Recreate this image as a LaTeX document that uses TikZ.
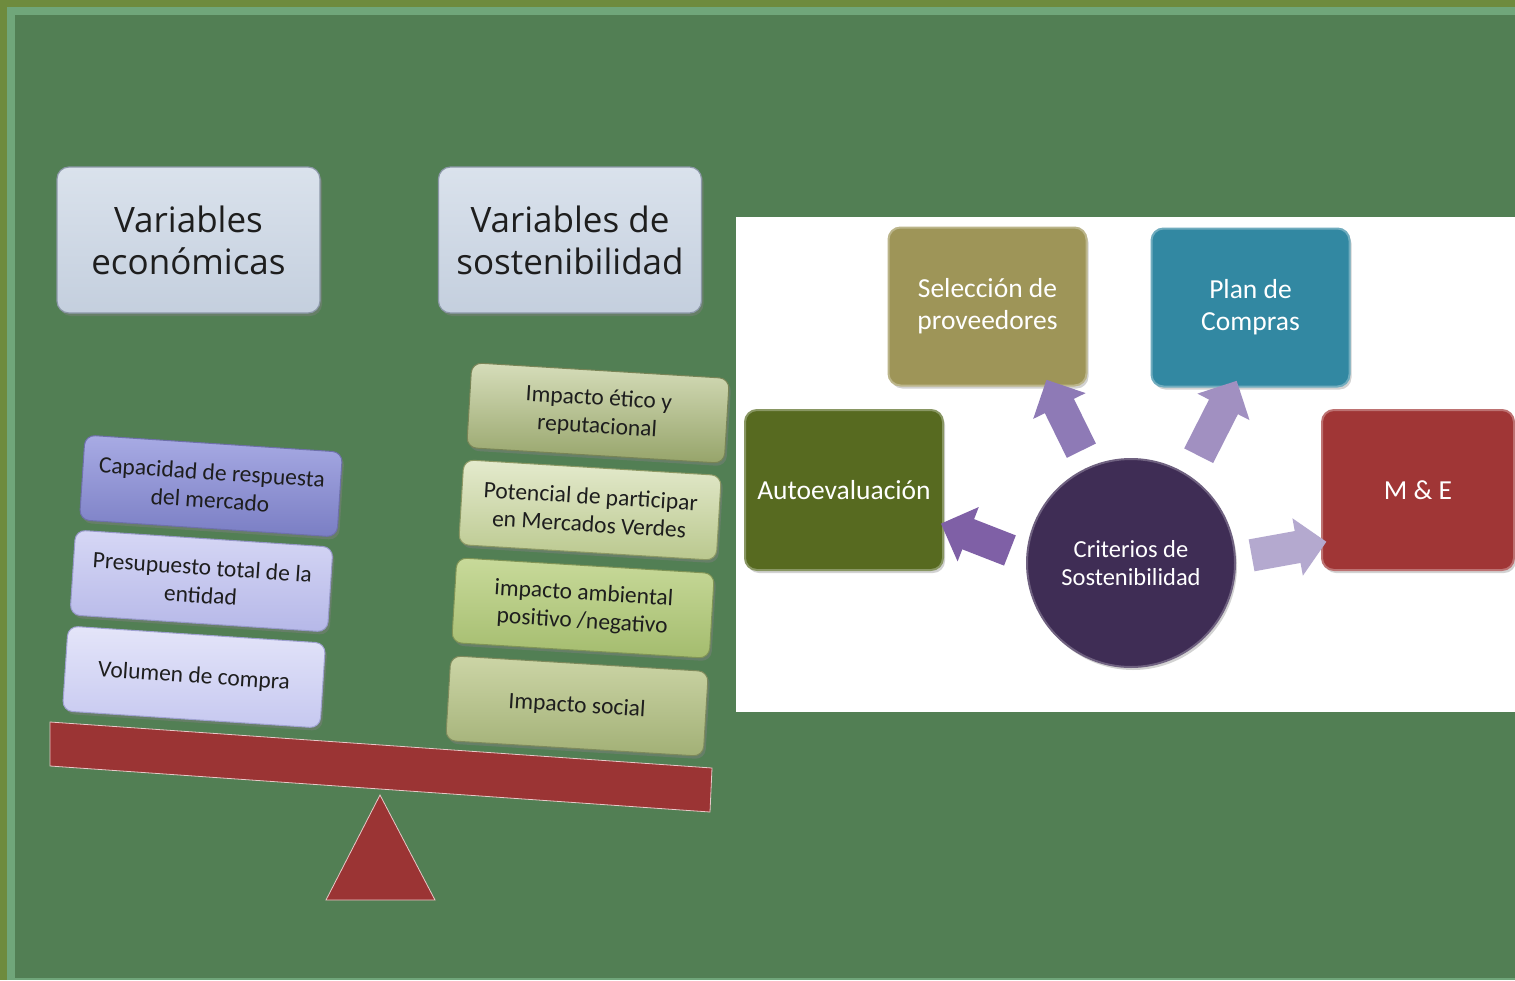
\documentclass[tikz,border=0pt]{standalone}
\usepackage{fontspec}
\setmainfont{Carlito}
\newfontfamily\hdfont{Open Sans}
\usetikzlibrary{shapes.arrows,shadows}
\definecolor{bgmain}{RGB}{82,127,84}
\definecolor{bgolive}{RGB}{110,139,62}
\definecolor{bglight}{RGB}{112,166,122}
\definecolor{beamred}{RGB}{155,52,52}
\definecolor{beamedge}{RGB}{232,200,200}
\definecolor{topA}{RGB}{218,226,236}
\definecolor{topB}{RGB}{196,207,222}
\definecolor{topE}{RGB}{140,152,168}
\definecolor{txtdark}{RGB}{30,30,30}
\definecolor{selcol}{RGB}{158,149,88}
\definecolor{plancol}{RGB}{50,136,162}
\definecolor{autocol}{RGB}{87,106,32}
\definecolor{mecol}{RGB}{160,54,54}
\definecolor{critcol}{RGB}{63,45,85}
\definecolor{arrA}{RGB}{127,96,166}
\definecolor{arrB}{RGB}{142,122,182}
\definecolor{arrC}{RGB}{161,144,193}
\definecolor{arrD}{RGB}{180,169,207}
\begin{document}
\begin{tikzpicture}[x=1pt,y=-1pt,
  topbox/.style={rounded corners=12pt, minimum width=263pt, minimum height=146pt,
    top color=topA, bottom color=topB, draw=topE, line width=1.2pt,
    drop shadow={shadow xshift=2pt, shadow yshift=-3pt, opacity=0.45},
    align=center, text=txtdark, font=\hdfont\fontsize{35}{42}\selectfont},
  lbox/.style={rounded corners=10pt, minimum width=258pt, minimum height=85pt,
    line width=1pt, align=center, text=txtdark,
    drop shadow={shadow xshift=2pt, shadow yshift=-3pt, opacity=0.45},
    font=\fontsize{23.5}{28}\selectfont},
  pbox/.style={rounded corners=12pt, minimum width=198pt, minimum height=158pt,
    line width=2pt, align=center, text=white,
    drop shadow={shadow xshift=2pt, shadow yshift=-3pt, opacity=0.35},
    font=\fontsize{27.5}{32}\selectfont},
  blockarrow/.style={single arrow, minimum width=58pt, inner sep=16pt,
    single arrow head extend=13pt, draw=none}
]
\useasboundingbox (0,0) rectangle (1515,980);
% background frame
\fill[bgolive] (0,0) rectangle (1515,980);
\fill[bglight] (7,7) rectangle (1515,980);
\fill[bgmain] (15,15) rectangle (1515,978);

% header boxes
\node[topbox] (ve) at (188.5,240) {Variables\\económicas};
\node[topbox] (vs) at (570,240) {Variables de\\sostenibilidad};

% beam and pivot
\filldraw[fill=beamred, draw=beamedge, line width=0.8pt]
  (50,722) -- (712,768) -- (710,812) -- (50,766) -- cycle;
\filldraw[fill=beamred, draw=beamedge, line width=0.8pt]
  (380,795) -- (435,900) -- (326,900) -- cycle;

% economic variables
\node[lbox, rotate=-3.8, top color={rgb,255:red,168;green,171;blue,228}, bottom color={rgb,255:red,122;green,126;blue,196}, draw={rgb,255:red,110;green,112;blue,170}]
  (c1) at (211,486) {Capacidad de respuesta\\del mercado};
\node[lbox, rotate=-3.8, top color={rgb,255:red,214;green,215;blue,245}, bottom color={rgb,255:red,182;green,184;blue,232}, draw={rgb,255:red,150;green,152;blue,200}]
  (c2) at (201.5,581) {Presupuesto total de la\\entidad};
\node[lbox, rotate=-3.8, top color={rgb,255:red,228;green,229;blue,249}, bottom color={rgb,255:red,198;green,200;blue,240}, draw={rgb,255:red,160;green,162;blue,210}]
  (c3) at (194,677) {Volumen de compra};

% sustainability variables
\node[lbox, rotate=-3.5, top color={rgb,255:red,214;green,221;blue,186}, bottom color={rgb,255:red,150;green,164;blue,106}, draw={rgb,255:red,120;green,132;blue,86}]
  (s1) at (598,413) {Impacto ético y\\reputacional};
\node[lbox, rotate=-3.5, top color={rgb,255:red,228;green,234;blue,205}, bottom color={rgb,255:red,186;green,200;blue,142}, draw={rgb,255:red,140;green,152;blue,100}]
  (s2) at (590,510) {Potencial de participar\\en Mercados Verdes};
\node[lbox, rotate=-3.5, top color={rgb,255:red,200;green,218;blue,154}, bottom color={rgb,255:red,164;green,188;blue,110}, draw={rgb,255:red,128;green,148;blue,86}]
  (s3) at (583,608) {impacto ambiental\\positivo /negativo};
\node[lbox, rotate=-3.5, top color={rgb,255:red,204;green,213;blue,166}, bottom color={rgb,255:red,162;green,176;blue,118}, draw={rgb,255:red,126;green,138;blue,92}]
  (s4) at (577,706) {Impacto social};

% white panel
\fill[white] (736,217) rectangle (1515,712);

\node[pbox, fill=selcol, draw=selcol!70!white] (sel) at (987.5,306.5) {Selección de\\proveedores};
\node[pbox, fill=plancol, draw=plancol!70!white] (plan) at (1250.5,307.5) {Plan de\\Compras};
\node[pbox, fill=autocol, draw=autocol!70!white, minimum height=160pt] (auto) at (844,490) {Autoevaluación};
\node[pbox, fill=mecol, draw=mecol!70!white, minimum width=192pt, minimum height=160pt] (me) at (1418,490) {M \& E};

% block arrows
\node[blockarrow, fill=arrA, minimum height=74pt, rotate=158.7] (a1) at (983,540) {};
\node[blockarrow, fill=arrB, minimum height=79pt, rotate=116.2] (a2) at (1067.5,422.5) {};
\node[blockarrow, fill=arrC, minimum height=84pt, rotate=63.1] (a3) at (1214,425.5) {};
\node[blockarrow, fill=arrD, minimum height=76pt, rotate=10.3] (a4) at (1281,550) {};

% centre circle
\node[circle, fill=critcol, draw=critcol!75!white, line width=2pt, minimum size=208pt,
  align=center, text=white, font=\fontsize{24.5}{28}\selectfont,
  drop shadow={shadow xshift=2pt, shadow yshift=-3pt, opacity=0.35}]
  (crit) at (1131,563) {Criterios de\\Sostenibilidad};
\end{tikzpicture}
\end{document}
